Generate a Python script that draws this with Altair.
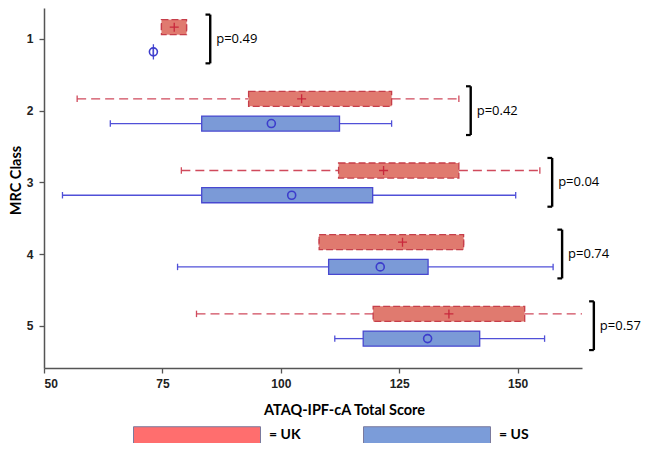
import altair as alt
import pandas as pd

# ---- data ----
classes = [1, 2, 3, 4, 5]
groups = ["UK", "US"]

uk_min = [74.8, 57.0, 79.0, 108.1, 82.2]
uk_q1 = [74.8, 93.2, 112.2, 108.1, 119.5]
uk_q3 = [80.1, 123.4, 137.6, 138.6, 151.5]
uk_max = [80.1, 137.6, 154.7, 138.6, 166.0]
uk_mean = [77.5, 104.4, 121.7, 125.7, 135.5]

us_min = [73.1, 64.0, 53.9, 78.2, 111.4]
us_q1 = [73.1, 83.3, 83.3, 110.1, 117.4]
us_q3 = [73.1, 112.4, 119.4, 131.1, 142.0]
us_max = [73.1, 123.4, 149.6, 157.5, 155.7]
us_mean = [73.1, 98.0, 102.3, 121.0, 131.0]

p_labels = ["p=0.49", "p=0.42", "p=0.04", "p=0.74", "p=0.57"]
bracket_x = [85.1, 140.1, 157.3, 159.4, 166.1]

x_ticks = [50, 75, 100, 125, 150]

# ---- tables ----
OFF = {"UK": -0.165, "US": 0.18}
HALF = 0.105
CAP = 0.045
rows = []
for g, mn, q1, q3, mx, me in [
    ("UK", uk_min, uk_q1, uk_q3, uk_max, uk_mean),
    ("US", us_min, us_q1, us_q3, us_max, us_mean),
]:
    for i, c in enumerate(classes):
        yc = c + OFF[g]
        rows.append(dict(group=g, cls=c, y=yc, ylo=yc - HALF, yhi=yc + HALF,
                         clo=yc - CAP, chi=yc + CAP,
                         mn=mn[i], q1=q1[i], q3=q3[i], mx=mx[i], mean=me[i]))
df = pd.DataFrame(rows)

br = pd.DataFrame(dict(cls=classes, bx=bracket_x, label=p_labels))
br["ylo"] = br["cls"] - 0.34
br["yhi"] = br["cls"] + 0.34
br["sx"] = br["bx"] - 1.0

xs = alt.Scale(domain=[50, 163.6], nice=False, zero=False)
ys = alt.Scale(domain=[0.568, 5.59], nice=False, zero=False, reverse=True)
xax = alt.Axis(values=x_ticks, format="d", grid=False, title="ATAQ-IPF-cA Total Score",
               titleX=300, titleY=42, titleAlign="center", titleBaseline="middle")
yax = alt.Axis(values=classes, format="d", grid=False, title="MRC Class",
               titleX=-28, titleY=172, titleAngle=270, titleAlign="center",
               titleBaseline="middle")


def X(f):
    return alt.X(f, type="quantitative", scale=xs, axis=xax)


def X2(f):
    return alt.X2(f)


def Y(f):
    return alt.Y(f, type="quantitative", scale=ys, axis=yax)


base = alt.Chart(df)

style = {
    "UK": dict(fill="#E07A6F", stroke="#C63E4A", wh="#D04A5C", mean="#C8283C",
               dash=[9, 5], bdash=[7, 3]),
    "US": dict(fill="#7B9AD7", stroke="#4848D0", wh="#5050D8", mean="#3C3CCC",
               dash=[], bdash=[]),
}

layers = []
for g in groups:
    s = style[g]
    b = base.transform_filter(alt.datum.group == g)
    wkw = dict(color=s["wh"], strokeWidth=1.3, clip=True, strokeCap="butt")
    if s["dash"]:
        wkw["strokeDash"] = s["dash"]
    layers.append(b.mark_rule(**wkw).encode(x=X("mn"), x2=X2("q1"), y=Y("y")))
    layers.append(b.mark_rule(**wkw).encode(x=X("q3"), x2=X2("mx"), y=Y("y")))
    ckw = dict(color=s["wh"], strokeWidth=1.3, clip=True)
    layers.append(b.mark_rule(**ckw).encode(x=X("mn"), y=Y("clo"), y2=alt.Y2("chi")))
    layers.append(b.mark_rule(**ckw).encode(x=X("mx"), y=Y("clo"), y2=alt.Y2("chi")))
    rkw = dict(fill=s["fill"], stroke=s["stroke"], strokeWidth=1.3)
    if s["bdash"]:
        rkw["strokeDash"] = s["bdash"]
    layers.append(b.mark_rect(**rkw).encode(x=X("q1"), x2=X2("q3"), y=Y("ylo"), y2=alt.Y2("yhi")))
    if g == "UK":
        layers.append(b.mark_point(shape="M-1,0L1,0M0,-1L0,1", size=81, filled=False,
                                   color=s["mean"], strokeWidth=1.3, opacity=1)
                      .encode(x=X("mean"), y=Y("y")))
    else:
        layers.append(b.mark_point(shape="circle", size=64, filled=False,
                                   color=s["mean"], strokeWidth=1.6, opacity=1)
                      .encode(x=X("mean"), y=Y("y")))

bb = alt.Chart(br)
layers.append(bb.mark_rule(color="black", strokeWidth=2.4).encode(
    x=X("bx"), y=Y("ylo"), y2=alt.Y2("yhi")))
layers.append(bb.mark_rule(color="black", strokeWidth=2.2).encode(
    x=X("sx"), x2=X2("bx"), y=Y("ylo")))
layers.append(bb.mark_rule(color="black", strokeWidth=2.2).encode(
    x=X("sx"), x2=X2("bx"), y=Y("yhi")))
layers.append(bb.mark_text(align="left", baseline="middle", dx=6, font="Open Sans",
                           fontSize=13, color="black").encode(
    x=X("bx"), y=Y("cls"), text="label:N"))

# legend carrier (draws nothing itself)
leg = pd.DataFrame(dict(group=groups, v=[60, 60]))
layers.append(alt.Chart(leg).transform_filter("false").mark_point(filled=True, opacity=1).encode(
    x=X("v"), y=Y("v"),
    color=alt.Color("group:N", scale=alt.Scale(domain=groups, range=["#FF6E6E", "#7B9CD9"]),
                    legend=alt.Legend(
                        orient="none", legendX=89, legendY=363, direction="horizontal",
                        title=None, padding=0,
                        symbolType="M-1,-0.134L1,-0.134L1,0.134L-1,0.134Z",
                        symbolSize=16129, symbolStrokeColor="#7A7A9E",
                        symbolStrokeWidth=1,
                        labelExpr="'= ' + datum.label", labelFont="Lato",
                        labelFontWeight="bold", labelFontSize=14, labelColor="black",
                        labelOffset=8, columnPadding=60))))

chart = alt.layer(*layers).properties(
    width=538, height=360,
    background="white",
    autosize=alt.AutoSizeParams(type="none"),
    padding={"left": 36, "top": 0, "right": 60, "bottom": 75},
).configure_view(stroke=None).configure_axis(
    domainColor="#555555", domainWidth=1.5, tickColor="#555555", tickSize=5,
    tickWidth=1.3, labelFont="Liberation Sans", labelFontWeight="bold", labelFontSize=12,
    labelColor="#222222", labelPadding=5, titleFont="Lato", titleFontWeight="bold",
    titleFontSize=14.5, titleColor="black",
).configure_axisY(labelPadding=6)

chart.save("out.html", embed_options={"renderer": "svg", "actions": False})
